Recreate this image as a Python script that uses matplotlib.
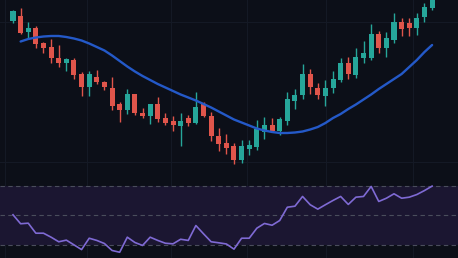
import matplotlib
matplotlib.use("Agg")
import matplotlib.pyplot as plt
import numpy as np

# ---- data ----
opens = [179, 184, 168, 172, 157, 153, 142, 137, 140, 126, 113, 123, 118, 112, 96, 90,
         106, 87, 84, 96, 82, 79, 74, 82, 77, 96, 84, 64, 57, 54, 40, 51, 53, 68, 75, 69,
         79, 99, 105, 126, 112, 104, 112, 120, 137, 125, 142, 142, 166, 152, 160, 178, 177,
         172, 183, 192]
highs = [190, 192, 178, 174, 158, 161, 155, 142, 142, 128, 129, 130, 119, 123, 98, 111,
         106, 92, 96, 103, 87, 84, 87, 85, 108, 98, 88, 72, 66, 57, 60, 60, 80, 83, 82, 83,
         108, 111, 136, 131, 117, 120, 129, 142, 143, 152, 159, 176, 169, 168, 187, 182, 182,
         187, 197, 210]
lows = [177, 166, 162, 152, 147, 137, 133, 129, 121, 104, 104, 116, 110, 90, 78, 86,
        85, 82, 76, 78, 75, 69, 54, 74, 76, 83, 59, 49, 46, 36, 37, 45, 50, 61, 68, 65,
        75, 91, 101, 106, 101, 94, 107, 118, 121, 122, 137, 140, 147, 143, 157, 164, 164,
        165, 178, 190]
closes = [189, 167, 172, 156, 152, 142, 137, 141, 125, 113, 126, 118, 113, 94, 90, 106,
          87, 84, 96, 81, 77, 75, 79, 77, 93, 84, 64, 56, 52, 40, 54, 55, 71, 75, 69, 81,
          101, 105, 126, 113, 105, 112, 121, 137, 126, 143, 147, 166, 152, 162, 178, 171, 172,
          182, 193, 205]

ma_values = [np.nan, 158.5, 161, 162.5, 163.5, 164, 164, 163, 161.5, 159.5, 156.5, 153,
             149.5, 144.5, 139, 133.5, 128.5, 124, 120, 116, 112.5, 109, 105.5, 102.5,
             99.5, 96, 92.5, 88.5, 84.5, 80.5, 77.5, 74.5, 71.5, 69.5, 68, 67, 67, 67.5,
             68.5, 70.5, 73, 77, 82, 86, 91, 95.5, 100.5, 105.5, 111, 116, 121, 126, 133,
             140, 148, 155]

rsi_values = [50.5, 44.4, 44.8, 38.0, 38.0, 35.3, 32.2, 33.3, 30.1, 26.9, 34.6, 33.1, 31.0,
              26.3, 25.1, 35.3, 31.7, 29.7, 35.3, 33.1, 31.2, 30.8, 33.9, 33.1, 43.2, 37.6,
              32.2, 31.5, 30.7, 27.2, 34.6, 34.6, 41.4, 44.6, 43.4, 46.6, 55.6, 56.3, 62.9,
              57.3, 54.3, 57.3, 60.2, 62.9, 57.5, 62.4, 62.9, 69.7, 59.5, 61.7, 64.7, 61.7,
              62.4, 64.2, 66.9, 69.9]

rsi_levels = [30, 50, 70]

# ---- style ----
BG = "#0c0f18"
UP = "#26a69a"
DOWN = "#e0554b"
MA_COLOR = "#2459c8"
RSI_COLOR = "#7f6ad4"
BAND = "#1b1631"
GRID = "#141925"

W, H = 458, 258
fig = plt.figure(figsize=(W / 100, H / 100), dpi=100, facecolor=BG)

main_bottom_px = 178
ax = fig.add_axes([0, (H - main_bottom_px) / H, 1, main_bottom_px / H])
ax_rsi = fig.add_axes([0, 0, 1, (H - main_bottom_px) / H])

n = len(opens)
x = np.arange(n)
xlim = (-13 / 7.62, (W - 13) / 7.62)

for a in (ax, ax_rsi):
    a.set_facecolor(BG)
    a.set_xlim(*xlim)
    for s in a.spines.values():
        s.set_visible(False)
    a.set_xticks([])
    a.set_yticks([])

# faint grid
grid_x = [-1.05, 9.7, 20.7, 30.7, 41.1, 52.5]
for gx in grid_x:
    ax.axvline(gx, color=GRID, lw=0.8, zorder=0)
    ax_rsi.axvline(gx, color=GRID, lw=0.8, zorder=0)
for gy in [178, 38]:
    ax.axhline(gy, color=GRID, lw=0.8, zorder=0)

# candles
body_w = 0.66
for i in range(n):
    o, h, l, c = opens[i], highs[i], lows[i], closes[i]
    col = UP if c >= o else DOWN
    ax.vlines(x[i], l, h, color=col, lw=1.0, zorder=2)
    ax.bar(x[i], max(abs(c - o), 0.8), bottom=min(o, c), width=body_w,
           color=col, edgecolor=col, linewidth=0, zorder=3)

ax.plot(x, ma_values, color=MA_COLOR, lw=1.7, zorder=4,
        solid_capstyle="round", solid_joinstyle="round")
ax.set_ylim(22, 200)

# RSI panel
ax_rsi.set_ylim(21.2, 75.4)
ax_rsi.axhspan(rsi_levels[0], rsi_levels[2], color=BAND, zorder=0.5, lw=0)
for lv in rsi_levels:
    ax_rsi.axhline(lv, color="#4a4d5c", lw=0.8, ls=(0, (4, 3)), zorder=1)
ax_rsi.plot(x, rsi_values, color=RSI_COLOR, lw=1.2, zorder=3, solid_joinstyle="round")

fig.savefig("out.png", dpi=100, facecolor=BG)
